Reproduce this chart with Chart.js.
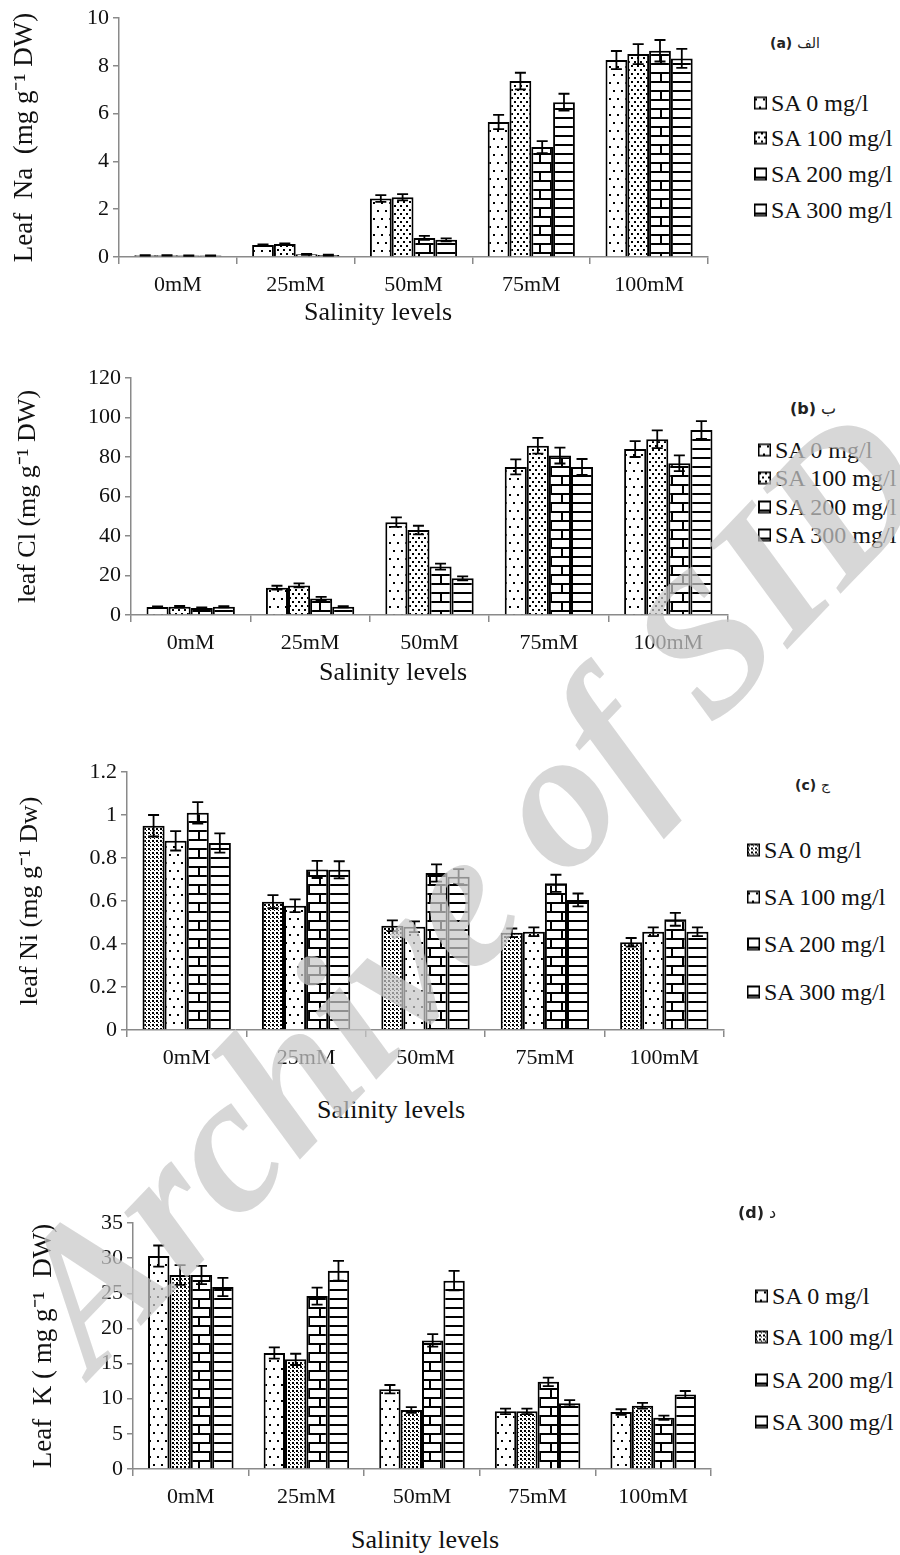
<!DOCTYPE html>
<html><head><meta charset="utf-8">
<script src="https://cdn.jsdelivr.net/npm/chart.js@4.4.0/dist/chart.umd.min.js"></script>
<style>
body{margin:0;background:#fff;}
#page{position:relative;width:900px;height:1555px;overflow:hidden;background:#fff;font-family:"Liberation Serif","Times New Roman",serif;}
.panel{position:absolute;left:0;width:740px;}
.panel canvas{display:block;}
.xt{position:absolute;font-size:26px;color:#111;white-space:nowrap;transform:translate(-50%,-50%);}
.lgi{position:absolute;font-size:24px;color:#111;white-space:nowrap;transform:translateY(-50%);display:flex;align-items:center;}
.lgi canvas{margin-right:4px;}
.plab{position:absolute;font-family:"DejaVu Sans",sans-serif;font-weight:bold;color:#222;white-space:nowrap;transform:translateY(-50%);}
.plab span{font-weight:normal;margin-left:5px;}
#wm{position:absolute;font-family:"Liberation Serif",serif;font-weight:bold;font-style:italic;font-size:197px;line-height:197px;color:rgba(200,200,200,0.72);white-space:nowrap;pointer-events:none;z-index:10;}
</style></head>
<body><div id="page"></div>
<script>
// ---------- data ----------
const categories = ['0mM','25mM','50mM','75mM','100mM'];
const seriesLabels = ['SA 0 mg/l','SA 100 mg/l','SA 200 mg/l','SA 300 mg/l'];

// (a) leaf Na
const naSA0   = [0.07, 0.50, 2.45, 5.65, 8.24];
const naSA100 = [0.07, 0.54, 2.50, 7.36, 8.49];
const naSA200 = [0.06, 0.11, 0.80, 4.60, 8.63];
const naSA300 = [0.06, 0.08, 0.72, 6.48, 8.31];
const naErr0   = [0.01, 0.03, 0.14, 0.30, 0.38];
const naErr100 = [0.01, 0.03, 0.13, 0.35, 0.42];
const naErr200 = [0.01, 0.02, 0.08, 0.25, 0.45];
const naErr300 = [0.01, 0.02, 0.06, 0.35, 0.40];

// (b) leaf Cl
const clSA0   = [4.0, 13.8, 47.0, 75.0, 84.0];
const clSA100 = [4.2, 15.0, 43.0, 85.7, 89.0];
const clSA200 = [3.5,  8.4, 24.5, 80.7, 76.8];
const clSA300 = [4.2,  4.2, 18.6, 75.0, 93.7];
const clErr0   = [0.4, 1.0, 2.4, 3.8, 4.0];
const clErr100 = [0.4, 1.0, 2.2, 4.0, 4.5];
const clErr200 = [0.3, 0.8, 1.5, 4.0, 4.0];
const clErr300 = [0.3, 0.3, 1.0, 4.0, 4.5];

// (c) leaf Ni
const niSA0   = [0.95, 0.597, 0.485, 0.452, 0.408];
const niSA100 = [0.88, 0.578, 0.480, 0.457, 0.457];
const niSA200 = [1.01, 0.747, 0.730, 0.682, 0.515];
const niSA300 = [0.87, 0.745, 0.713, 0.605, 0.457];
const niErr0   = [0.05, 0.03, 0.025, 0.02, 0.02];
const niErr100 = [0.045, 0.03, 0.025, 0.02, 0.02];
const niErr200 = [0.05, 0.04, 0.04, 0.04, 0.03];
const niErr300 = [0.045, 0.04, 0.035, 0.03, 0.02];

// (d) leaf K
const kSA0   = [30.3, 16.5, 11.35, 8.2, 8.1];
const kSA100 = [27.6, 15.6,  8.4,  8.2, 9.0];
const kSA200 = [27.6, 24.6, 18.3, 12.4, 7.3];
const kSA300 = [25.9, 28.2, 26.8,  9.35, 10.6];
const kErr0   = [1.5, 0.8, 0.6, 0.4, 0.4];
const kErr100 = [1.4, 0.8, 0.4, 0.4, 0.4];
const kErr200 = [1.3, 1.2, 0.9, 0.6, 0.3];
const kErr300 = [1.3, 1.4, 1.4, 0.45, 0.5];

const yTitles = ['Leaf  Na  (mg g\u207B\u00B9 DW)','leaf Cl (mg g\u207B\u00B9 DW)','leaf Ni (mg g\u207B\u00B9 Dw)','Leaf  K ( mg g\u207B\u00B9  DW)'];
const xTitle = 'Salinity levels';
const panelTags = [['(a)','الف'],['(b)','ب'],['(c)','ج'],['(d)','د']];

// ---------- patterns ----------
function makeTile(type){
  const c=document.createElement('canvas'); let w,h;
  if(type==='sparse'){w=8;h=16;} else if(type==='medium'){w=6;h=8;} else if(type==='dense'){w=4;h=4;}
  else if(type==='brick'){w=22;h=18;} else {w=4;h=9;}
  c.width=w;c.height=h; const g=c.getContext('2d');
  g.fillStyle='#fff';g.fillRect(0,0,w,h);g.fillStyle='#000';
  if(type==='sparse'){g.fillRect(1,2,2,2);g.fillRect(5,10,2,2);}
  else if(type==='medium'){g.fillRect(1,1,2,2);g.fillRect(4,5,2,2);}
  else if(type==='dense'){g.fillRect(0,0,2,2);g.fillRect(2,2,1,1);}
  else if(type==='brick'){g.fillRect(0,0,w,2);g.fillRect(0,9,w,2);g.fillRect(0,2,2,7);g.fillRect(11,11,2,7);}
  else {g.fillRect(0,0,w,2);}
  return c;
}
function pattern(type){const c=makeTile(type);return c.getContext('2d').createPattern(c,'repeat');}

// ---------- plugin: error bars ----------
const errorBars={
  id:'errorBars',
  afterDatasetsDraw(chart){
    const ctx=chart.ctx, ys=chart.scales.y;
    ctx.save();ctx.strokeStyle='#000';ctx.lineWidth=1.8;
    chart.data.datasets.forEach((ds,i)=>{
      const meta=chart.getDatasetMeta(i);
      meta.data.forEach((bar,j)=>{
        const v=ds.data[j], e=ds.errors[j];
        const x=bar.x, y1=ys.getPixelForValue(v+e), y2=ys.getPixelForValue(v-e), cap=5.5;
        ctx.beginPath();ctx.moveTo(x,y1);ctx.lineTo(x,y2);
        ctx.moveTo(x-cap,y1);ctx.lineTo(x+cap,y1);ctx.moveTo(x-cap,y2);ctx.lineTo(x+cap,y2);ctx.stroke();
      });
    });
    ctx.restore();
  }
};

const page=document.getElementById('page');
const AX='#8a8a8a';
const panels=[
  {y0:0,   h:300, top:18,  bottom:257, left:119, right:708, max:10,  step:2,   tfs:27, tpad:9,  series:[naSA0,naSA100,naSA200,naSA300], errs:[naErr0,naErr100,naErr200,naErr300], pats:['sparse','medium','brick','hline'],
   xt:[378,312], leg:{x:754,ys:[103,138,174,210]}, tag:{x:770,y:43,fs:14}},
  {y0:340, h:320, top:378, bottom:615, left:131, right:728, max:120, step:20,  tfs:26, tpad:13, series:[clSA0,clSA100,clSA200,clSA300], errs:[clErr0,clErr100,clErr200,clErr300], pats:['sparse','medium','brick','hline'],
   xt:[393,672], leg:{x:758,ys:[450,478,507,535]}, tag:{x:790,y:408,fs:16}},
  {y0:740, h:340, top:772, bottom:1030,left:127, right:724, max:1.2, step:0.2, tfs:26, tpad:15, series:[niSA0,niSA100,niSA200,niSA300], errs:[niErr0,niErr100,niErr200,niErr300], pats:['dense','sparse','brick','hline'],
   xt:[391,1110], leg:{x:747,ys:[850,897,944,992]}, tag:{x:795,y:785,fs:14}},
  {y0:1190,h:320, top:1223,bottom:1469,left:133, right:711, max:35,  step:5,   tfs:27, tpad:28, series:[kSA0,kSA100,kSA200,kSA300], errs:[kErr0,kErr100,kErr200,kErr300], pats:['sparse','dense','brick','hline'],
   xt:[425,1540], leg:{x:755,ys:[1296,1337,1380,1422]}, tag:{x:738,y:1212,fs:16}}
];
const W=740;
panels.forEach((p,pi)=>{
  const div=document.createElement('div');div.className='panel';div.style.top=p.y0+'px';div.style.height=p.h+'px';
  const cv=document.createElement('canvas');cv.width=W;cv.height=p.h;cv.style.width=W+'px';cv.style.height=p.h+'px';
  div.appendChild(cv);page.appendChild(div);
  const datasets=p.series.map((s,i)=>({label:seriesLabels[i],data:s,errors:p.errs[i],backgroundColor:pattern(p.pats[i]),borderColor:'#000',borderWidth:2,barPercentage:1.0,categoryPercentage:0.74}));
  new Chart(cv,{
    type:'bar',
    data:{labels:categories,datasets},
    options:{
      responsive:false,animation:false,devicePixelRatio:1,
      layout:{padding:{top:p.top-p.y0,right:W-p.right,left:0,bottom:0}},
      plugins:{legend:{display:false},tooltip:{enabled:false}},
      scales:{
        x:{
          grid:{offset:true,drawOnChartArea:false,drawTicks:true,tickLength:7,color:AX,lineWidth:1.5},
          border:{color:AX,width:1.5},
          ticks:{color:'#111',font:{family:'Liberation Serif',size:22},padding:8,maxRotation:0},
          afterFit:(s)=>{s.height=p.y0+p.h-p.bottom;}
        },
        y:{
          min:0,max:p.max,
          grid:{drawOnChartArea:false,drawTicks:true,tickLength:6,color:AX,lineWidth:1.5},
          border:{color:AX,width:1.5},
          ticks:{stepSize:p.step,color:'#111',font:{family:'Liberation Serif',size:22},padding:4,callback:(v)=>String(+(+v).toFixed(2))},
          title:{display:true,text:yTitles[pi],color:'#111',font:{family:'Liberation Serif',size:p.tfs},padding:{top:p.tpad,bottom:0}},
          afterFit:(s)=>{s.width=p.left;}
        }
      }
    },
    plugins:[errorBars]
  });
  const xt=document.createElement('div');xt.className='xt';xt.textContent=xTitle;xt.style.left=p.xt[0]+'px';xt.style.top=p.xt[1]+'px';page.appendChild(xt);
  seriesLabels.forEach((lab,i)=>{
    const it=document.createElement('div');it.className='lgi';it.style.left=p.leg.x+'px';it.style.top=p.leg.ys[i]+'px';
    const sw=document.createElement('canvas');sw.width=13;sw.height=13;
    const g=sw.getContext('2d');g.fillStyle=g.createPattern(makeTile(p.pats[i]),'repeat');g.fillRect(0,0,13,13);
    g.strokeStyle='#000';g.lineWidth=1.5;g.strokeRect(0.75,0.75,11.5,11.5);
    it.appendChild(sw);const t=document.createElement('span');t.textContent=lab;it.appendChild(t);page.appendChild(it);
  });
  const tg=document.createElement('div');tg.className='plab';tg.style.left=p.tag.x+'px';tg.style.top=p.tag.y+'px';tg.style.fontSize=p.tag.fs+'px';
  tg.innerHTML=panelTags[pi][0]+'<span>'+panelTags[pi][1]+'</span>';page.appendChild(tg);
});
// watermark
const wm=document.createElement('div');wm.id='wm';wm.textContent='Archive of SID';
const baseOff=165;
wm.style.left='93px';wm.style.top=(1376-baseOff)+'px';wm.style.transformOrigin='0px '+baseOff+'px';wm.style.transform='rotate(-46.3deg)';
page.appendChild(wm);
</script></body></html>
